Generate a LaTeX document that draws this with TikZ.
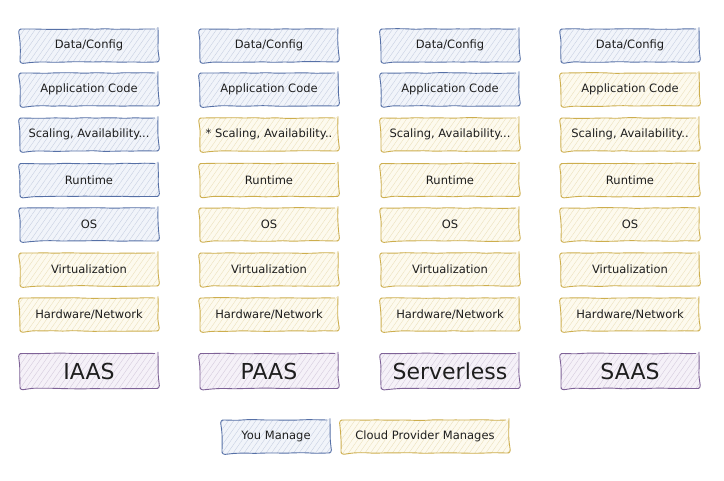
\documentclass[tikz,border=0pt]{standalone}
\usepackage{fontspec}
\setmainfont{DejaVu Sans}
\usetikzlibrary{patterns.meta,decorations.pathmorphing}
\definecolor{youline}{HTML}{5670A6}
\definecolor{youfill}{HTML}{F1F4FA}
\definecolor{provline}{HTML}{CDAE4E}
\definecolor{provfill}{HTML}{FDFAEE}
\definecolor{kindline}{HTML}{7E6297}
\definecolor{kindfill}{HTML}{F5F1F8}
\definecolor{ink}{HTML}{1E1E1E}
\begin{document}
\begin{tikzpicture}[x=1pt,y=-1pt,
	box/.style={rectangle,rounded corners=3pt,minimum width=138pt,minimum height=33pt,inner sep=0pt,line width=0.9pt,text=ink,
		font=\fontsize{11.5}{13}\selectfont,decoration={random steps,segment length=10pt,amplitude=0.4pt},decorate},
	you/.style={box,draw=youline,preaction={fill=youfill},pattern={Lines[angle=55,distance=4.5pt,line width=0.35pt]},pattern color=youline!35},
	prov/.style={box,draw=provline,preaction={fill=provfill},pattern={Lines[angle=55,distance=4.5pt,line width=0.35pt]},pattern color=provline!40},
	kind/.style={box,minimum height=35pt,draw=kindline,preaction={fill=kindfill},pattern={Lines[angle=55,distance=4.5pt,line width=0.35pt]},pattern color=kindline!35,
		font=\fontsize{22}{26}\selectfont}]
	\useasboundingbox (0,0) rectangle (724,480);
	% IAAS
	\node[you] (i1) at (89,45.5) {Data/Config};
	\node[you] (i2) at (89,89.5) {Application Code};
	\node[you] (i3) at (89,134.5) {Scaling, Availability...};
	\node[you] (i4) at (89,180) {Runtime};
	\node[you] (i5) at (89,224.5) {OS};
	\node[prov] (i6) at (89,269.5) {Virtualization};
	\node[prov] (i7) at (89,314.5) {Hardware/Network};
	\node[kind] (iaas) at (89,371) {IAAS};
	% PAAS
	\node[you] (p1) at (269,45.5) {Data/Config};
	\node[you] (p2) at (269,89.5) {Application Code};
	\node[prov] (p3) at (269,134.5) {* Scaling, Availability..};
	\node[prov] (p4) at (269,180) {Runtime};
	\node[prov] (p5) at (269,224.5) {OS};
	\node[prov] (p6) at (269,269.5) {Virtualization};
	\node[prov] (p7) at (269,314.5) {Hardware/Network};
	\node[kind] (paas) at (269,371) {PAAS};
	% Serverless
	\node[you] (s1) at (450,45.5) {Data/Config};
	\node[you] (s2) at (450,89.5) {Application Code};
	\node[prov] (s3) at (450,134.5) {Scaling, Availability...};
	\node[prov] (s4) at (450,180) {Runtime};
	\node[prov] (s5) at (450,224.5) {OS};
	\node[prov] (s6) at (450,269.5) {Virtualization};
	\node[prov] (s7) at (450,314.5) {Hardware/Network};
	\node[kind] (srvl) at (450,371) {Serverless};
	% SAAS
	\node[you] (a1) at (630,45.5) {Data/Config};
	\node[prov] (a2) at (630,89.5) {Application Code};
	\node[prov] (a3) at (630,134.5) {Scaling, Availability..};
	\node[prov] (a4) at (630,180) {Runtime};
	\node[prov] (a5) at (630,224.5) {OS};
	\node[prov] (a6) at (630,269.5) {Virtualization};
	\node[prov] (a7) at (630,314.5) {Hardware/Network};
	\node[kind] (saas) at (630,371) {SAAS};
	% legend
	\node[you,minimum width=108pt] (leg1) at (276,436.5) {You Manage};
	\node[prov,minimum width=168pt] (leg2) at (425,436.5) {Cloud Provider Manages};
\end{tikzpicture}
\end{document}
